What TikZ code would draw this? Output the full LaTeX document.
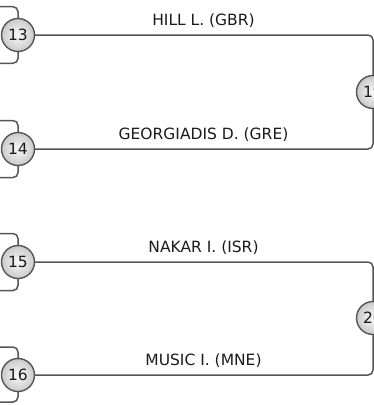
\documentclass[tikz,border=0pt]{standalone}
\usepackage{fontspec}
\setmainfont{DejaVu Sans}
\usetikzlibrary{backgrounds}
\definecolor{linegray}{HTML}{555555}
\definecolor{txt}{HTML}{1A1A1A}
\begin{document}
\begin{tikzpicture}[x=1pt,y=-1pt,
  match/.style={circle, minimum size=33pt, inner sep=0pt, draw=linegray, line width=1.4pt,
    inner color=gray!4, outer color=gray!42, text=txt, font=\fontsize{15.5}{18}\selectfont},
  conn/.style={draw=linegray, line width=1.5pt, rounded corners=5pt},
  lbl/.style={anchor=base, inner sep=0pt, text=txt, font=\fontsize{15.5}{18}\selectfont}]
\useasboundingbox (0,0) rectangle (374,405);
% first-round matches
\node[match] (c13) at (18,35) {13};
\node[match] (c14) at (18,149) {14};
\node[match] (c15) at (18,262) {15};
\node[match] (c16) at (18,375) {16};
% next-round matches
\node[match] (r1) at (373,92) {19};
\node[match] (r2) at (373,318) {20};
% feeder coordinates (off the left edge)
\coordinate (f13a) at (-20,6.7);  \coordinate (f13b) at (-20,63.3);
\coordinate (f14a) at (-20,120.5);\coordinate (f14b) at (-20,177.5);
\coordinate (f15a) at (-20,233.5);\coordinate (f15b) at (-20,290.5);
\coordinate (f16a) at (-20,347);  \coordinate (f16b) at (-20,402);
% labels
\node[lbl] (l13) at (203.5,25.6) {HILL L. (GBR)};
\node[lbl] (l14) at (203.5,139.8) {GEORGIADIS D. (GRE)};
\node[lbl] (l15) at (203.5,252.4) {NAKAR I. (ISR)};
\node[lbl] (l16) at (203.5,365.6) {MUSIC I. (MNE)};
\begin{pgfonlayer}{background}
  \foreach \m in {13,14,15,16}{
    \draw[conn] (f\m a) -| (c\m.north);
    \draw[conn] (f\m b) -| (c\m.south);
  }
  \draw[conn] (c13.east) -| (r1.center) |- (c14.east);
  \draw[conn] (c15.east) -| (r2.center) |- (c16.east);
\end{pgfonlayer}
\end{tikzpicture}
\end{document}
